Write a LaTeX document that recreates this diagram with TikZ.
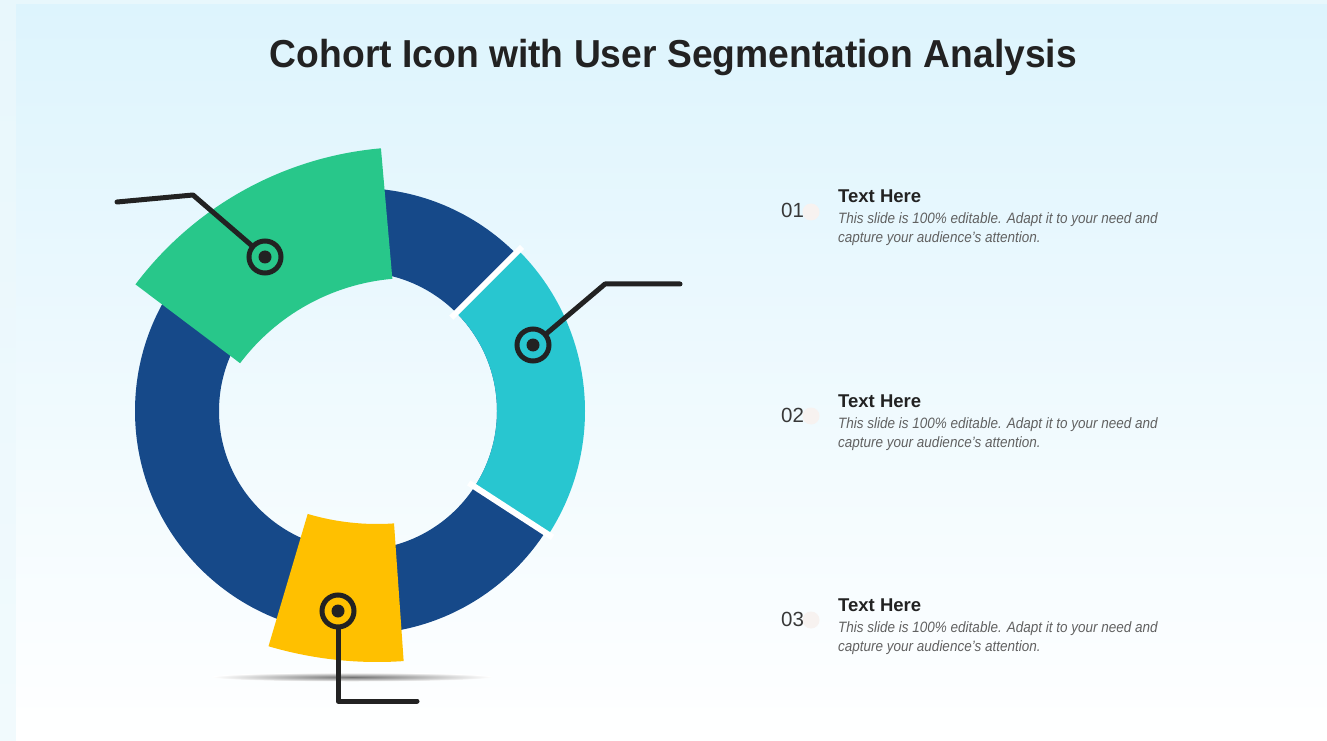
\documentclass[tikz,border=0pt]{standalone}
\usepackage{fontspec}
\setmainfont{Liberation Sans}

\definecolor{ringblue}{RGB}{22,73,137}
\definecolor{leafgreen}{RGB}{40,199,138}
\definecolor{aqua}{RGB}{40,198,208}
\definecolor{sun}{RGB}{255,192,0}
\definecolor{ink}{RGB}{34,34,34}
\definecolor{skytop}{RGB}{221,244,253}
\definecolor{stripbg}{RGB}{232,247,252}
\definecolor{peach}{RGB}{247,242,240}

\tikzset{
  dotring/.style={circle, draw=ink, line width=5pt, minimum size=32pt, inner sep=0pt},
  lead/.style={draw=ink, line width=5pt, line cap=round, line join=round},
  num/.style={anchor=base west, inner sep=0pt, text=ink!90, font=\fontsize{20.5}{24}\selectfont},
  head/.style={anchor=base west, inner sep=0pt, text=ink, font=\fontsize{18.5}{22}\selectfont\bfseries},
  desc/.style={anchor=base west, inner sep=0pt, text=black!62, font=\fontsize{15}{19}\selectfont\itshape}
}

\begin{document}
\begin{tikzpicture}[x=1pt,y=1pt]
        \useasboundingbox (0,0) rectangle (1327,740);
        \shade [top color=stripbg, bottom color=stripbg!60!white] (0,0) rectangle (1327,740);
        \shade [top color=skytop, bottom color=white] (16,0) rectangle (1327,735); % slide area
        % title
        \node [anchor=base, inner sep=0pt, text=ink, font=\fontsize{39}{47}\selectfont\bfseries] (title) at (673.5,672)
              {\scalebox{0.955}[1]{Cohort Icon with User Segmentation Analysis}};
        % ground shadow
        \shade [inner color=black!55, outer color=white] (352,63) ellipse (140 and 4.5);
        % base ring
        \fill [ringblue, even odd rule] (358,329) circle (223) (358,329) circle (139);
        % cyan segment, cut out with white gaps
        \fill [aqua] ([shift={(358,329)}]-33:227) arc [start angle=-33, end angle=45, radius=227]
              -- ([shift={(358,329)}]45:139) arc [start angle=45, end angle=-33, radius=139] -- cycle;
        \draw [white, line width=6pt] ([shift={(358,329)}]45:132) -- ([shift={(358,329)}]45:232);
        \draw [white, line width=6pt] ([shift={(358,329)}]-33:132) -- ([shift={(358,329)}]-33:232);
        % green segment, pulled out and larger
        \fill [leafgreen] ([shift={(411,248)}]95:345) arc [start angle=95, end angle=143, radius=345]
              -- ([shift={(411,248)}]143:214) arc [start angle=143, end angle=95, radius=214] -- cycle;
        % yellow segment
        \fill [sun] ([shift={(377,460)}]-106.5:382) arc [start angle=-106.5, end angle=-86, radius=382]
              -- ([shift={(377,460)}]-86:244) arc [start angle=-86, end angle=-106.5, radius=244] -- cycle;
        % markers and leaders
        \node [dotring] (gpin) at (265,483) {};
        \node [dotring] (cpin) at (533,395) {};
        \node [dotring] (ypin) at (338,129) {};
        \fill [ink] (gpin) circle (6.5);
        \fill [ink] (cpin) circle (6.5);
        \fill [ink] (ypin) circle (6.5);
        \coordinate (gknee) at (193,545);
        \coordinate (gend) at (117,538);
        \coordinate (cknee) at (605,456);
        \coordinate (cend) at (680,456);
        \coordinate (yknee) at (338,39);
        \coordinate (yend) at (417,39);
        \draw [lead] (gpin) -- (gknee) -- (gend);
        \draw [lead] (cpin) -- (cknee) -- (cend);
        \draw [lead] (ypin) -- (yknee) -- (yend);
        % text blocks
        \fill [peach] (811,528) circle (8.5);
        \fill [peach] (811,324) circle (8.5);
        \fill [peach] (811,120) circle (8.5);
        \node [num] (n1) at (781,522) {01};
        \node [head] (h1) at (838,537) {Text Here};
        \node [desc] (d1a) at (838,516) {\scalebox{0.9}[1]{This slide is 100\% editable. Adapt it to your need and}};
        \node [desc] (d1b) at (838,497) {\scalebox{0.9}[1]{capture your audience’s attention.}};
        \node [num] (n2) at (781,318) {02};
        \node [head] (h2) at (838,333) {Text Here};
        \node [desc] (d2a) at (838,312) {\scalebox{0.9}[1]{This slide is 100\% editable. Adapt it to your need and}};
        \node [desc] (d2b) at (838,293) {\scalebox{0.9}[1]{capture your audience’s attention.}};
        \node [num] (n3) at (781,114) {03};
        \node [head] (h3) at (838,129) {Text Here};
        \node [desc] (d3a) at (838,108) {\scalebox{0.9}[1]{This slide is 100\% editable. Adapt it to your need and}};
        \node [desc] (d3b) at (838,89) {\scalebox{0.9}[1]{capture your audience’s attention.}};
\end{tikzpicture}
\end{document}
